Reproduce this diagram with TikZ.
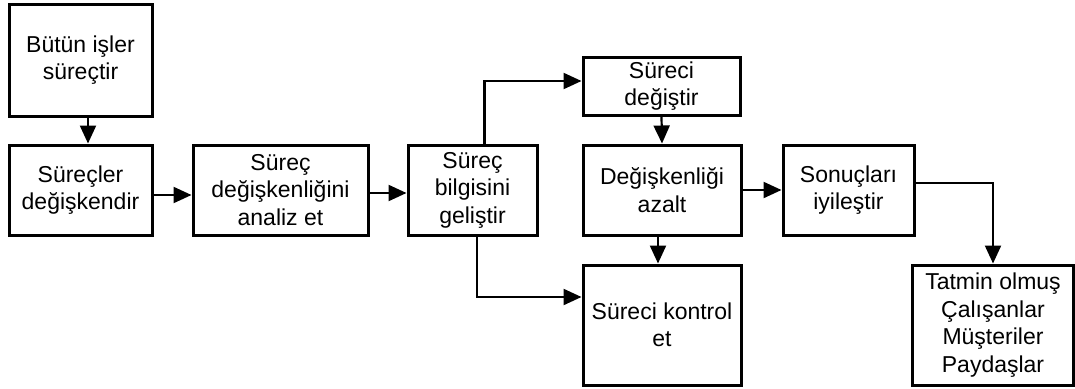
\documentclass[tikz,border=0pt]{standalone}
\usepackage{fontspec}
\setmainfont{Liberation Sans}
\usetikzlibrary{arrows.meta}
\begin{document}
\begin{tikzpicture}[x=1pt,y=-1pt,
  box/.style={draw,line width=3pt,align=center,inner sep=0pt,
    font=\fontsize{23}{27.5}\selectfont},
  conn/.style={line width=2.2pt,-{Triangle[length=18pt,width=16pt]}}]
\useasboundingbox (0,0) rectangle (1075,388);
\node[box,minimum width=143pt,minimum height=112pt] (b1) at (80.5,60) {Bütün işler\\süreçtir};
\node[box,minimum width=143pt,minimum height=90pt] (b2) at (80.5,190) {Süreçler\\değişkendir};
\node[box,minimum width=175pt,minimum height=90pt] (b3) at (280.5,190) {Süreç\\değişkenliğini\\analiz et};
\node[box,minimum width=129pt,minimum height=90pt] (b4) at (472.5,190) {Süreç\\bilgisini\\geliştir};
\node[box,minimum width=157pt,minimum height=58pt] (b5) at (661.5,86) {Süreci\\değiştir};
\node[box,minimum width=158pt,minimum height=90pt] (b6) at (662,190) {Değişkenliği\\azalt};
\node[box,minimum width=158pt,minimum height=120pt] (b7) at (662,325) {Süreci kontrol\\et};
\node[box,minimum width=131pt,minimum height=90pt] (b8) at (848.5,190) {Sonuçları\\iyileştir};
\node[box,minimum width=161pt,minimum height=120pt] (b9) at (993,325) {Tatmin olmuş\\Çalışanlar\\Müşteriler\\Paydaşlar};
% connectors
\draw[conn] ([xshift=7.5pt]b1.south) -- ([xshift=7.5pt]b2.north);
\draw[conn] ([yshift=-5pt]b2.east) -- ([yshift=-5pt]b3.west);
\draw[conn] ([yshift=-3pt]b3.east) -- ([yshift=-3pt]b4.west);
\draw[conn] ([xshift=12pt]b4.north) |- ([yshift=5pt]b5.west);
\draw[conn] (b5.south) -- (b6.north);
\draw[conn] ([xshift=-4pt]b6.south) -- ([xshift=-4pt]b7.north);
\draw[conn] ([xshift=4.5pt]b4.south) |- ([yshift=28pt]b7.west);
\draw[conn] (b6.east) -- (b8.west);
\draw[conn] ([yshift=7pt]b8.east) -| (b9.north);
\end{tikzpicture}
\end{document}
